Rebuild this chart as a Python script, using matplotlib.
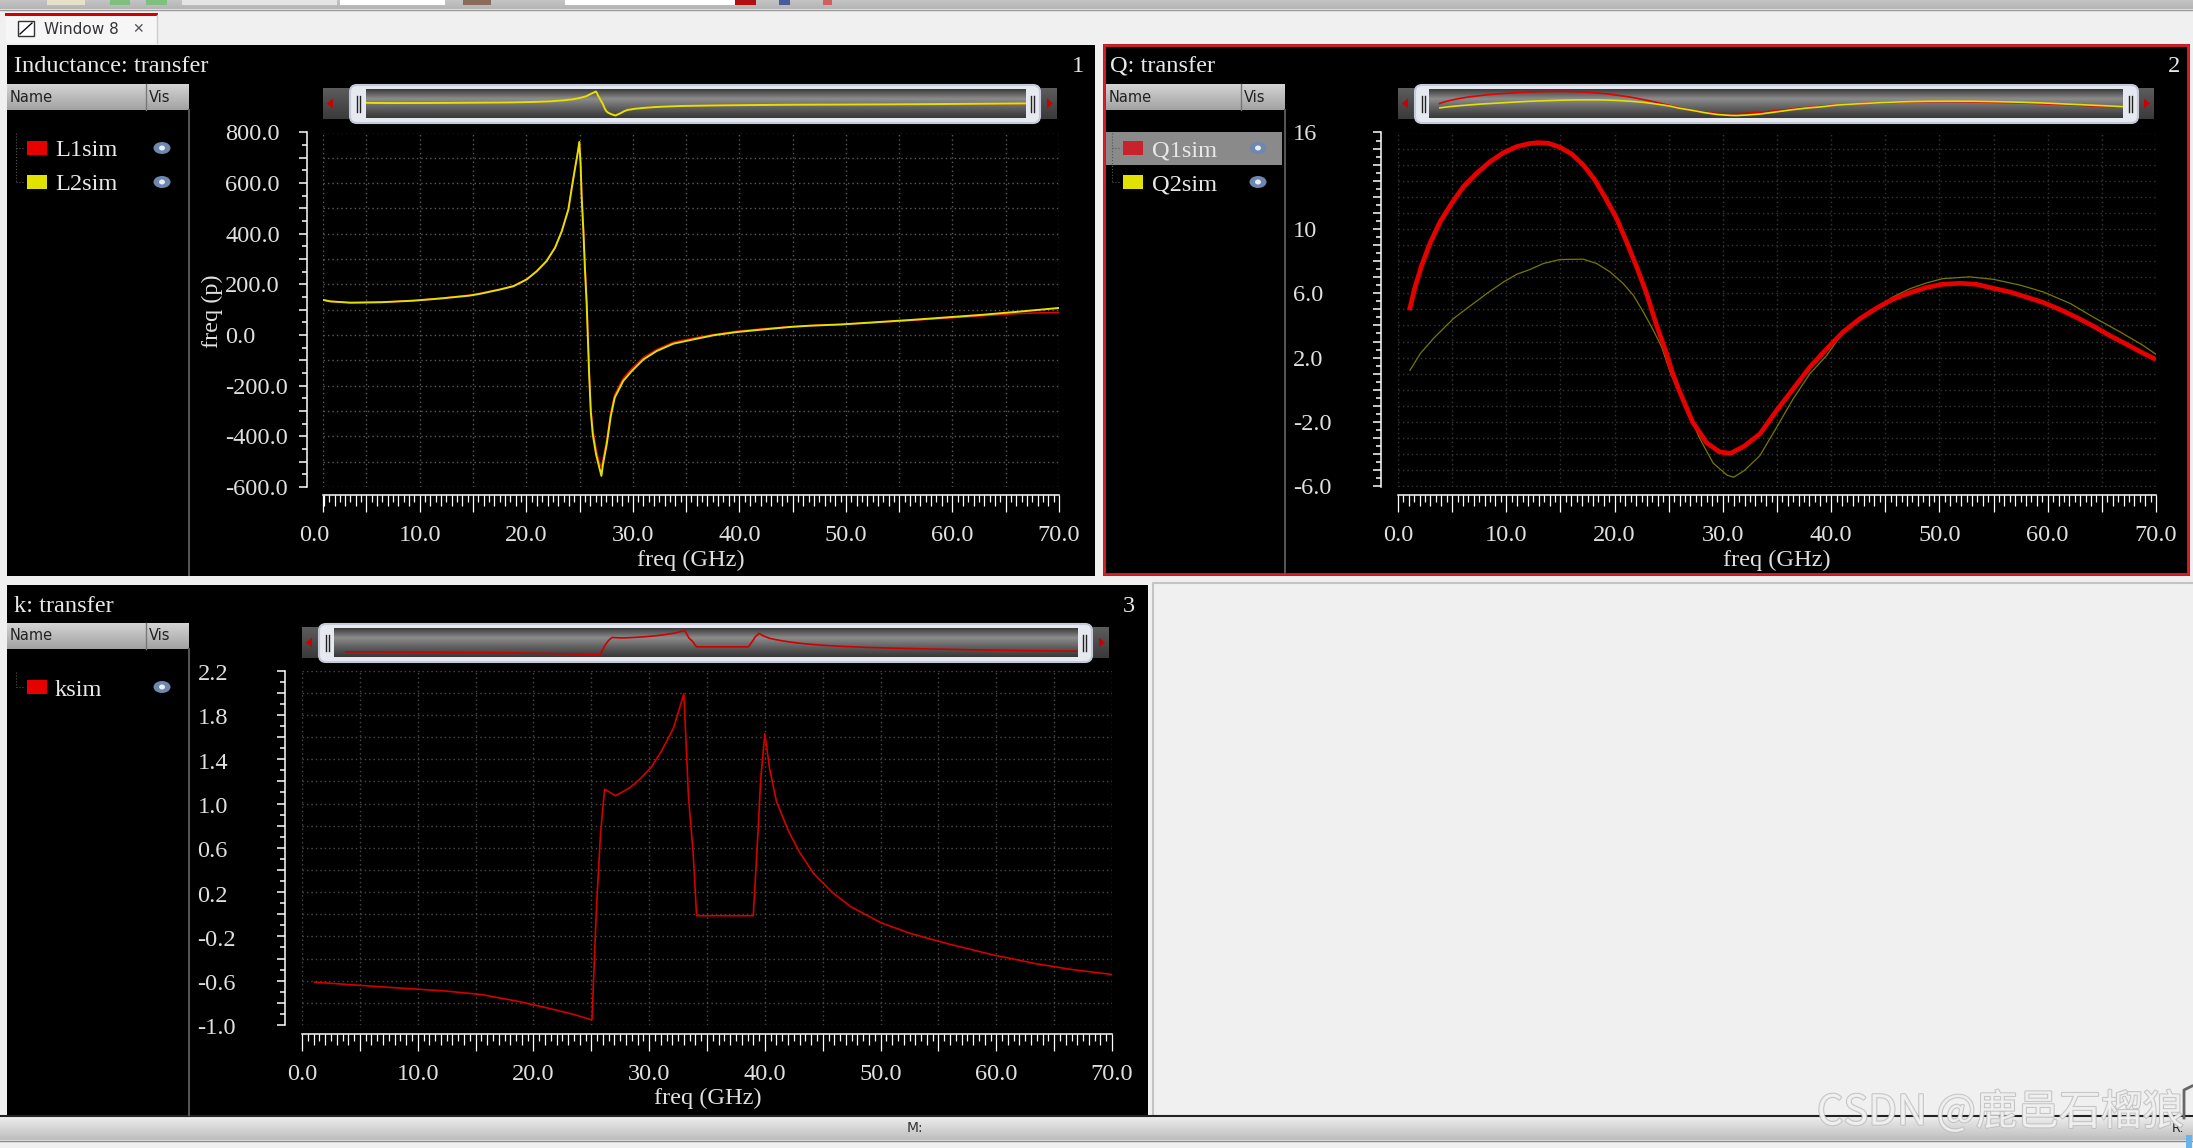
#!/usr/bin/env python3
"""Recreate the three-panel simulator window (Inductance, Q, k against freq)."""

import numpy as np
import matplotlib
matplotlib.use("Agg")
import matplotlib.pyplot as plt
import matplotlib.patheffects as pe
from matplotlib.colors import LinearSegmentedColormap
from matplotlib.patches import Ellipse, FancyBboxPatch, Polygon, Rectangle
from matplotlib.ticker import MultipleLocator
from matplotlib.transforms import ScaledTranslation

W, H = 2193, 1148
DPI = 100
PX = 72 / DPI  # points per pixel
SERIF = "Liberation Serif"
FS = 17.6

L_FREQ = [0.92, 1.6, 3.5, 6.5, 9.5, 12.1, 14.7, 15.67, 17.54, 18.8, 20.05, 20.98, 21.9, 22.7, 23.33,
          23.95, 24.27, 24.58, 24.8, 24.98, 25.1, 25.2, 25.36, 25.5, 25.67, 25.9, 26.05, 26.24,
          26.55, 26.86, 27.05, 27.2, 27.55, 27.93, 28.3, 29.1, 29.9, 31, 32.24, 33.8, 35.7, 37.55,
          39.75, 42.2, 44.75, 46.6, 49.6, 52.9, 56.2, 59.5, 62.8, 66.1, 70]
L2_SIM = [139, 133, 128, 130, 136, 145, 156, 163, 180, 193, 220, 252, 292, 345, 410,
          496, 581, 660, 713, 763, 673, 542, 410, 266, 121, -155, -300, -392,
          -471, -524, -556, -510, -431, -320, -247, -181, -142, -96, -63, -34, -17, -1,
          12, 22, 32, 37, 42, 51, 60, 70, 80, 92, 107]
L1_SIM = [139, 133, 127, 129, 137, 146, 158, 165, 181, 194, 221, 253, 293, 346, 411,
          497, 582, 661, 714, 760, 680, 555, 425, 285, 140, -135, -280, -370,
          -450, -505, -520, -490, -415, -305, -235, -170, -132, -88, -57, -28, -12, 2,
          15, 25, 33, 37, 42, 50, 58, 67, 76, 85, 90]

Q1_FREQ = [1.05, 1.57, 2.19, 2.95, 3.88, 4.95, 6.03, 7.26, 8.49, 9.73, 10.96, 12.03, 12.96, 13.88,
           14.96, 16.04, 17.11, 18.19, 19.27, 20.19, 21.11, 22.04, 22.96, 23.88, 24.81, 25.27,
           25.9, 27.2, 28.5, 29.7, 30.7, 32, 33.43, 34.97, 36.5, 38.04, 39.6, 41.1, 42.66, 44.2,
           45.7, 47.3, 48.8, 50.3, 51.9, 53.4, 54.97, 56.5, 58, 59.6, 61.1, 62.7, 64.2, 65.7,
           67.3, 68.8, 70]
Q1_SIM = [4.94, 6.39, 7.74, 9.1, 10.44, 11.59, 12.62, 13.46, 14.18, 14.74, 15.12, 15.3, 15.37, 15.33,
          15.08, 14.66, 13.98, 13.04, 11.79, 10.65, 9.2, 7.64, 5.98, 4.0, 2.24, 1.2,
          0.05, -2.0, -3.3, -3.87, -3.96, -3.5, -2.74, -1.29, 0.06, 1.41, 2.55, 3.59, 4.42, 5.08,
          5.63, 6.04, 6.36, 6.56, 6.62, 6.56, 6.31, 6.08, 5.77, 5.42, 5.0, 4.49, 3.96, 3.38,
          2.82, 2.28, 1.88]
Q2_FREQ = [1.1, 2.06, 3.26, 5.11, 6.34, 8.19, 9.73, 10.96, 12.19, 13.42, 14.96, 17.11, 18.35, 19.58,
           20.8, 21.73, 22.66, 23.58, 24.35, 25.2, 26.5, 27.8, 29.1, 30.4, 31, 32, 33.43, 34.97,
           36.5, 38.04, 39.6, 41.1, 42.66, 45.7, 47.3, 48.8, 50.3, 52.8, 54.97, 57.5, 59.6, 62.1,
           64.2, 66.7, 68.8, 70]
Q2_SIM = [1.2, 2.25, 3.18, 4.42, 5.05, 5.98, 6.7, 7.18, 7.48, 7.85, 8.1, 8.12, 7.85, 7.33,
          6.6, 5.88, 4.83, 3.7, 2.65, 0.97, -0.88, -2.95, -4.56, -5.32, -5.44, -5.02, -4.09, -2.33,
          -0.56, 1.0, 2.14, 3.59, 4.42, 5.77, 6.29, 6.64, 6.91, 7.02, 6.87, 6.5, 6.08, 5.36,
          4.52, 3.59, 2.76, 2.2]

K_FREQ = [1.09, 4.6, 8.4, 12.3, 15.5, 18.7, 21.2, 23.5, 25.06, 25.45, 25.8, 26.15, 27.1, 28.3,
          29.2, 30.2, 31.1, 32.1, 33, 33.4, 33.8, 34.1, 39, 39.4, 39.64, 40, 40.4, 41, 42, 43,
          44.2, 45.8, 47.4, 50, 52.6, 55.8, 59.6, 63.4, 66.6, 70]
K_SIM = [-0.613, -0.639, -0.666, -0.692, -0.725, -0.787, -0.846, -0.905, -0.954, 0.07, 0.73, 1.13,
         1.07, 1.14, 1.22, 1.33, 1.48, 1.68, 1.99, 1.06, 0.56, -0.013, -0.013, 0.73, 1.22, 1.63,
         1.32, 1.02, 0.76, 0.56, 0.37, 0.2, 0.07, -0.075, -0.174, -0.266, -0.364, -0.446, -0.5,
         -0.544]

L_YLABELS = ["800.0", "600.0", "400.0", "200.0", "0.0", "-200.0", "-400.0", "-600.0"]
L_YVALUES = [800, 600, 400, 200, 0, -200, -400, -600]
Q_YLABELS = ["16", "10", "6.0", "2.0", "-2.0", "-6.0"]
Q_YVALUES = [16, 10, 6, 2, -2, -6]
K_YLABELS = ["2.2", "1.8", "1.4", "1.0", "0.6", "0.2", "-0.2", "-0.6", "-1.0"]
K_YVALUES = [2.2, 1.8, 1.4, 1.0, 0.6, 0.2, -0.2, -0.6, -1.0]

RED = "#e60000"
YELLOW = "#e2e200"


def px_axes(fig, x0, y0, x1, y1, zorder=2):
    ax = fig.add_axes([x0 / W, 1 - y1 / H, (x1 - x0) / W, (y1 - y0) / H], zorder=zorder)
    ax.patch.set_alpha(0)
    return ax


def grad(ax, x0, y0, x1, y1, colors, zorder=1):
    cmap = LinearSegmentedColormap.from_list("g", colors)
    ax.imshow(np.linspace(0, 1, 64)[:, None], cmap=cmap, aspect="auto",
              extent=(x0, x1, y1, y0), zorder=zorder)


def rect(ax, x0, y0, x1, y1, color, zorder=1, **kw):
    ax.add_patch(Rectangle((x0, y0), x1 - x0, y1 - y0, facecolor=color, edgecolor="none",
                           zorder=zorder, **kw))


def eye(ax, x, y):
    ax.add_patch(Ellipse((x, y), 17, 12, facecolor="#6f86ad", edgecolor="none", zorder=4))
    ax.add_patch(Ellipse((x, y), 6, 5, facecolor="#e8eef8", edgecolor="none", zorder=5))


def legend_panel(bg, x0, x_div, x1, y_head, y_bottom, entries, x_swatch, x_text, x_eye):
    grad(bg, x0, y_head, x1, y_head + 26, ["#d4d4d4", "#a2a2a2"], zorder=3)
    bg.plot([x_div, x_div], [y_head, y_head + 26], color="#777777", lw=1, zorder=4)
    bg.text(x0 + 3, y_head + 13, "Name", fontsize=10.5, color="#222222", va="center", zorder=5)
    bg.text(x_div + 3, y_head + 13, "Vis", fontsize=10.5, color="#222222", va="center", zorder=5)
    bg.plot([x1, x1], [y_head + 26, y_bottom], color="#555555", lw=1.5, zorder=3)
    ys = [e[2] for e in entries]
    bg.plot([x_swatch - 11, x_swatch - 11], [ys[0] - 15, ys[-1]], color="#555555", lw=0.8,
            ls=":", zorder=3)
    for name, color, y in entries:
        bg.plot([x_swatch - 11, x_swatch - 2], [y, y], color="#555555", lw=0.8, ls=":", zorder=3)
        rect(bg, x_swatch, y - 7, x_swatch + 20, y + 7, color, zorder=4)
        bg.text(x_text, y + 3, name, family=SERIF, fontsize=FS, color="#e8e8e8",
                va="center", zorder=5)
        eye(bg, x_eye, y)


def overview(fig, bg, track, handle, inner, y0, y1, series, x_from):
    tx0, tx1 = track
    hx0, hx1 = handle
    ix0, ix1 = inner
    grad(bg, tx0, y0, tx1, y1, ["#5c5c5c", "#3a3a3a"], zorder=2)
    bg.add_patch(FancyBboxPatch((hx0 + 1, y0 - 3), hx1 - hx0 - 2, y1 - y0 + 7,
                                boxstyle="round,pad=0,rounding_size=7", mutation_aspect=1,
                                facecolor="#e6e9f0", edgecolor="#c4cad8", lw=1.5, zorder=3))
    grad(bg, ix0, y0 + 1, ix1, y1 - 1, ["#3c3c3c", "#8c8c8c", "#5e5e5e", "#383838"], zorder=4)
    ymid = (y0 + y1) / 2
    for xb in (hx0 + 8, hx1 - 10):
        bg.plot([xb, xb], [ymid - 8, ymid + 8], color="#222222", lw=1, zorder=5)
        bg.plot([xb + 3, xb + 3], [ymid - 8, ymid + 8], color="#222222", lw=1, zorder=5)
    bg.add_patch(Polygon([(tx0 + 4, ymid), (tx0 + 10, ymid - 5), (tx0 + 10, ymid + 5)],
                         facecolor="#cc0000", zorder=5))
    bg.add_patch(Polygon([(tx1 - 4, ymid), (tx1 - 10, ymid - 5), (tx1 - 10, ymid + 5)],
                         facecolor="#cc0000", zorder=5))
    ax = px_axes(fig, ix0, y0 + 2, ix1, y1 - 2, zorder=3)
    ax.axis("off")
    for x, y, color, lw in series:
        ax.plot(x, y, color=color, lw=lw)
    ax.set_xlim(x_from, 70)
    ax.margins(y=0.06)


def main_axes(fig, box, xlim, ylim, x_ticks, x_tick_labels, y_major, y_minor, y_values, y_labels,
              left_out, bottom_out, label_left, grid_color, label_shift):
    ax = px_axes(fig, *box)
    # set_position resets the ticks, so do the spines before any tick styling
    for side in ("top", "right"):
        ax.spines[side].set_visible(False)
    ax.spines["left"].set_position(("outward", left_out * PX))
    ax.spines["bottom"].set_position(("outward", bottom_out * PX))
    for side in ("left", "bottom"):
        ax.spines[side].set_color("white")
        ax.spines[side].set_linewidth(1.1)
    ax.set_xlim(*xlim)
    ax.set_ylim(*ylim)
    ax.set_xticks(x_ticks)
    ax.set_xticklabels(x_tick_labels, family=SERIF, fontsize=FS, color="#e0e0e0")
    ax.xaxis.set_minor_locator(MultipleLocator(0.5))
    ax.yaxis.set_major_locator(MultipleLocator(y_major))
    ax.yaxis.set_minor_locator(MultipleLocator(y_minor))
    ticks = [t for t in ax.get_yticks() if ylim[0] - 1e-6 <= t <= ylim[1] + 1e-6]
    ax.set_yticks(ticks)
    labels = []
    for t in ticks:
        hit = [s for v, s in zip(y_values, y_labels) if abs(v - t) < 1e-6]
        labels.append(hit[0] if hit else "")
    ax.set_yticklabels(labels, family=SERIF, fontsize=FS, color="#e0e0e0")
    pad = (box[0] - left_out - 8 - label_left) * PX
    ax.tick_params(axis="y", which="major", direction="out", length=8 * PX, width=1.1,
                   color="white", pad=pad)
    ax.tick_params(axis="y", which="minor", direction="out", length=5 * PX, width=1.1, color="white")
    ax.tick_params(axis="x", which="major", direction="out", length=17 * PX, width=0.9,
                   color="white", pad=13 * PX)
    ax.tick_params(axis="x", which="minor", direction="out", length=6.5 * PX, width=0.9, color="white")
    # whole GHz ticks are longer than the half GHz ones
    locs = ax.xaxis.get_minorticklocs()
    for loc, tick in zip(locs, ax.xaxis.get_minor_ticks(len(locs))):
        if abs(loc - round(loc)) < 1e-6:
            tick.tick1line.set_markersize(11.5 * PX)
    shift = ScaledTranslation(0, -label_shift / DPI, fig.dpi_scale_trans)
    for lab in ax.get_yticklabels():
        lab.set_horizontalalignment("left")
        lab.set_transform(lab.get_transform() + shift)
    ax.grid(True, which="major", color=grid_color, lw=1, ls=(0, (1, 2.2)))
    ax.set_axisbelow(True)
    return ax


fig = plt.figure(figsize=(W / DPI, H / DPI), dpi=DPI, facecolor="#f0f0f0")
bg = fig.add_axes([0, 0, 1, 1], zorder=0)
bg.axis("off")

# window chrome
grad(bg, 0, 0, W, 9, ["#c4c4c4", "#b4b4b4"])
bg.plot([0, W], [9.5, 9.5], color="#999999", lw=1)
for x0, x1, c in [(47, 85, "#e6e0c8"), (110, 130, "#7fbf7f"), (146, 167, "#7fbf7f"),
                  (182, 337, "#e4e4e4"), (340, 445, "#ffffff"), (463, 491, "#8a6a5a"),
                  (565, 735, "#ffffff"), (735, 756, "#b01010"), (779, 790, "#4a5a9a"),
                  (823, 832, "#d06060")]:
    rect(bg, x0, 0, x1, 5, c)
rect(bg, 6, 15, 157, 43, "#f6f6f6")
rect(bg, 5, 13, 158, 16, "#d00000", zorder=2)
bg.plot([157, 157], [15, 43], color="#cccccc", lw=1)
bg.add_patch(Rectangle((18, 21), 16, 15, facecolor="white", edgecolor="#333333", lw=1, zorder=2))
bg.plot([20, 32], [34, 23], color="#111111", lw=1, zorder=3)
bg.text(44, 29, "Window 8", fontsize=11, color="#333333", va="center")
bg.text(138, 29, "✕", fontsize=10, color="#555555", va="center", ha="center")

# panels
rect(bg, 7, 45, 1095, 576, "black")
rect(bg, 1103, 44, 2190, 576, "black")
bg.add_patch(Rectangle((1104, 45), 1084, 529, facecolor="none", edgecolor="#d8202a", lw=2, zorder=6))
rect(bg, 7, 585, 1148, 1115, "black")
bg.plot([1153, 1153, W], [1115, 583, 583], color="#c4c4c4", lw=1.5)
grad(bg, 0, 1116, W, 1140, ["#efefef", "#bdbdbd"], zorder=2)
bg.plot([0, W], [1115.5, 1115.5], color="#222222", lw=1.5, zorder=3)
bg.plot([0, W], [1140.5, 1140.5], color="#888888", lw=1, zorder=3)
bg.text(915, 1128, "M:", fontsize=10, color="#333333", ha="center", va="center", zorder=4)
bg.text(2178, 1129, "R:", fontsize=9, color="#222222", ha="center", va="center", zorder=4)
bg.plot([2184, 2184, 2192], [1118, 1090, 1086], color="#666666", lw=2, zorder=4)
rect(bg, 2186, 1135, 2192, 1148, "#66b4ee", zorder=4)

for txt, x, y in [("Inductance: transfer", 14, 67), ("Q: transfer", 1110, 67), ("k: transfer", 14, 606)]:
    bg.text(x, y, txt, family=SERIF, fontsize=FS, color="#e8e8e8", va="center", zorder=5)
for txt, x, y in [("1", 1084, 67), ("2", 2180, 67), ("3", 1135, 606)]:
    bg.text(x, y, txt, family=SERIF, fontsize=FS, color="#e8e8e8", va="center", ha="right", zorder=5)

rect(bg, 1106, 132, 1282, 165, "#8a8a8a", zorder=2)
legend_panel(bg, 7, 146, 189, 84, 575, [("L1sim", RED, 148), ("L2sim", YELLOW, 182)], 27, 55, 162)
legend_panel(bg, 1106, 1241, 1285, 84, 573, [("Q1sim", "#c8232c", 148), ("Q2sim", YELLOW, 182)],
             1123, 1152, 1258)
legend_panel(bg, 7, 146, 189, 623, 1115, [("ksim", RED, 687)], 27, 55, 162)

overview(fig, bg, (323, 1057), (349, 1041), (366, 1026), 88, 119,
         [(L_FREQ, L1_SIM, RED, 0.9), (L_FREQ, L2_SIM, YELLOW, 1.4)], 0.92)
overview(fig, bg, (1398, 2154), (1414, 2139), (1429, 2123), 88, 119,
         [(Q1_FREQ, Q1_SIM, RED, 1.2), (Q2_FREQ, Q2_SIM, YELLOW, 1.2)], 0)
overview(fig, bg, (302, 1109), (318, 1093), (334, 1078), 627, 658,
         [(K_FREQ, K_SIM, "#d00000", 1.2)], 0)

five = list(range(5, 75, 5))
tick_text = {10: "10.0", 20: "20.0", 30: "30.0", 40: "40.0", 50: "50.0", 60: "60.0", 70: "70.0"}
five_labels = [tick_text.get(v, "") for v in five]

ax1 = main_axes(fig, (323, 132.5, 1059, 487), (0.92, 70), (-600, 800), [0.92] + five,
                ["0.0"] + five_labels, 100, 50, L_YVALUES, L_YLABELS, 16, 8, 225, "#5a5a5a", 0)
first = ax1.get_xticklabels()[0]
first.set_transform(first.get_transform() + ScaledTranslation(-9 / DPI, 0, fig.dpi_scale_trans))
ax1.plot(L_FREQ, L1_SIM, color=RED, lw=1.1)
ax1.plot(L_FREQ, L2_SIM, color=YELLOW, lw=1.4)

ax2 = main_axes(fig, (1398, 132.5, 2156, 487), (0, 70), (-6.05, 16), [0] + five,
                ["0.0"] + five_labels, 1, 0.5, Q_YVALUES, Q_YLABELS, 17, 8, 1293, "#363636", 0)
ax2.plot(Q2_FREQ, Q2_SIM, color="#787800", lw=0.9)
ax2.plot(Q1_FREQ, Q1_SIM, color=RED, lw=3.4, solid_capstyle="butt")

ax3 = main_axes(fig, (302, 670.6, 1112, 1025), (0, 70), (-1.0, 2.2), [0] + five,
                ["0.0"] + five_labels, 0.2, 0.1, K_YVALUES, K_YLABELS, 17, 8.6, 197.5, "#4a4a4a", 1.5)
ax3.plot(K_FREQ, K_SIM, color="#d40000", lw=1.2)

for x, y in [(691, 560), (1777, 560), (708, 1098)]:
    bg.text(x, y, "freq (GHz)", family=SERIF, fontsize=FS, color="#e0e0e0", ha="center",
            va="center", zorder=5)
bg.text(212, 311, "freq (p)", family=SERIF, fontsize=FS, color="#e0e0e0", rotation=90,
        ha="center", va="center", zorder=5)

bg.set_xlim(0, W)
bg.set_ylim(H, 0)

top = fig.add_axes([0, 0, 1, 1], zorder=9)
top.axis("off")
top.set_xlim(0, W)
top.set_ylim(H, 0)
top.text(2184, 1112, "CSDN @鹿邑石榴狼", family=["Noto Sans CJK SC", "DejaVu Sans"], fontsize=30,
         color="#f2f2f2", alpha=0.85, ha="right", va="center",
         path_effects=[pe.withStroke(linewidth=1.4, foreground="#bcbcbc")])

fig.savefig("out.png", dpi=DPI, facecolor=fig.get_facecolor())
plt.close(fig)
